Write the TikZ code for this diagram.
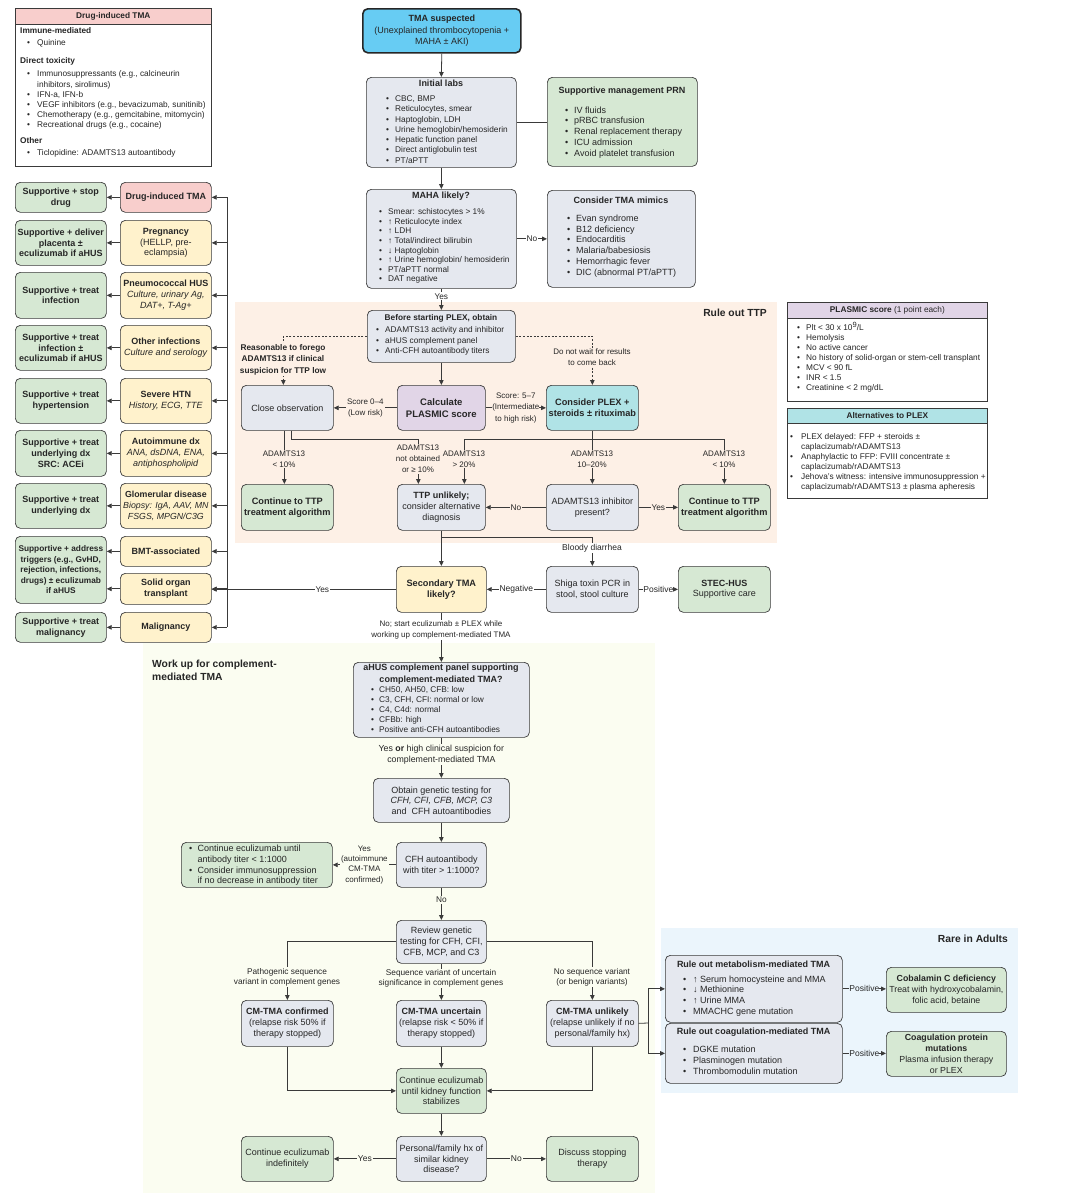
\documentclass[tikz,border=0pt]{standalone}
\usepackage{fontspec}
\setmainfont{Liberation Sans}
\usetikzlibrary{arrows.meta}
\definecolor{lc}{HTML}{3A3A3A}
\definecolor{tc}{HTML}{262626}
\definecolor{cgray}{HTML}{E5E8EF}
\definecolor{cgreen}{HTML}{D6E8D3}
\definecolor{cyel}{HTML}{FFF2CC}
\definecolor{cpink}{HTML}{F8CECC}
\definecolor{clav}{HTML}{E1D5E7}
\definecolor{cteal}{HTML}{B0E3E6}
\definecolor{ccyan}{HTML}{67CCF3}
\definecolor{cpeach}{HTML}{FDF0E6}
\definecolor{cwork}{HTML}{FBFDF1}
\definecolor{crare}{HTML}{EBF5FC}
\newcommand{\fs}[2]{\fontsize{#1pt}{#2pt}\selectfont}
\newcommand{\bu}[1][9pt]{\makebox[#1][l]{\textbullet}}
\newcommand{\bc}[1][9pt]{\hspace*{#1}}
\tikzset{
 bx/.style n args={4}{anchor=north west, at={(#1,#2)}, minimum width={#3-#1}, minimum height={#4-#2}},
 rbox/.style={draw=lc, line width=0.7pt, rounded corners=5pt, align=center, text=tc, inner sep=1pt, font=\fs{9}{10.8}},
 gbx/.style={rbox, fill=cgray},
 grn/.style={rbox, fill=cgreen},
 ylw/.style={rbox, fill=cyel},
 grnb/.style={grn, font=\fs{9}{10.8}\bfseries},
 hd/.style={inner sep=0pt, text=tc, align=center, font=\fs{9}{10.8}\bfseries},
 txt/.style={inner sep=0pt, text=tc, align=left, anchor=north west, font=\fs{8.3}{10.2}},
 lab/.style={inner sep=1pt, text=tc, align=center, font=\fs{8.3}{10.2}},
 arr/.style={draw=lc, line width=0.8pt, -{Triangle[length=5pt,width=4.5pt]}},
 ln/.style={draw=lc, line width=0.8pt},
 dsh/.style={arr, dash pattern=on 2pt off 1.6pt},
 rt/.style={inner sep=0pt, text=tc, font=\fs{10.3}{13}\bfseries},
 sq/.style={draw=lc, line width=0.7pt},
}
\begin{document}
\begin{tikzpicture}[x=1pt,y=-1pt]
\fill[white] (0,0) rectangle (1088,1200);
\useasboundingbox (0,0) rectangle (1088,1200);
% regions
\fill[cpeach] (235,302) rectangle (777,543);
\fill[cwork] (143,643) rectangle (655,1193);
\fill[crare] (661,928) rectangle (1018,1093);
\node[rt, anchor=east] (ttpT) at (767,313) {Rule out TTP};
\node[rt, anchor=north west, align=left] (wkT) at (152,660) {Work up for complement-\\mediated TMA};
\node[rt, anchor=east] (rareT) at (1008,939) {Rare in Adults};

% drug-induced box
\node[sq, fill=white, bx={15}{8}{211}{166}] (drugbox) {};
\node[sq, fill=cpink, bx={15}{8}{211}{24}, text=tc, font=\fs{8.3}{10}\bfseries] (drughd) {Drug-induced TMA};
\node[txt, at={(20,27.5)}] (druglist) {\textbf{Immune-mediated}\\[2pt]
\hspace*{7pt}\bu[10pt]Quinine\\[7.5pt]
\textbf{Direct toxicity}\\[3pt]
\hspace*{7pt}\bu[10pt]Immunosuppressants (e.g., calcineurin\\
\hspace*{7pt}\bc[10pt]inhibitors, sirolimus)\\
\hspace*{7pt}\bu[10pt]IFN-a, IFN-b\\
\hspace*{7pt}\bu[10pt]VEGF inhibitors (e.g., bevacizumab, sunitinib)\\
\hspace*{7pt}\bu[10pt]Chemotherapy (e.g., gemcitabine, mitomycin)\\
\hspace*{7pt}\bu[10pt]Recreational drugs (e.g., cocaine)\\[5.5pt]
\textbf{Other}\\[2pt]
\hspace*{7pt}\bu[10pt]Ticlopidine: ADAMTS13 autoantibody};

% top flow
\node[rbox, fill=ccyan, draw=black!85, line width=1.6pt, bx={362}{8}{520}{52}, font=\fs{9}{11.5}] (tma) {\textbf{TMA suspected}\\(Unexplained thrombocytopenia +\\MAHA ± AKI)};
\node[gbx, bx={366}{77}{516}{167}] (labs) {};
\node[hd, anchor=north, at={(441,79.5)}] (labsT) {Initial labs};
\node[txt, at={(386,95.5)}, font=\fs{8.3}{10.3}] (labsL) {\bu CBC, BMP\\\bu Reticulocytes, smear\\\bu Haptoglobin, LDH\\\bu Urine hemoglobin/hemosiderin\\\bu Hepatic function panel\\\bu Direct antiglobulin test\\\bu PT/aPTT};
\node[grn, bx={547}{77}{697}{166}] (supp) {};
\node[hd, anchor=north, at={(622,86.5)}] (suppT) {Supportive management PRN};
\node[txt, at={(565,106.5)}, font=\fs{9}{10.7}] (suppL) {\bu IV fluids\\\bu pRBC transfusion\\\bu Renal replacement therapy\\\bu ICU admission\\\bu Avoid platelet transfusion};
\node[gbx, bx={366}{189}{516}{288}] (maha) {};
\node[hd, anchor=north, at={(441,191.5)}] (mahaT) {MAHA likely?};
\node[txt, at={(379,208.5)}, font=\fs{8.3}{9.6}] (mahaL) {\bu Smear: schistocytes > 1\%\\\bu ↑ Reticulocyte index\\\bu ↑ LDH\\\bu ↑ Total/indirect bilirubin\\\bu ↓ Haptoglobin\\\bu ↑ Urine hemoglobin/ hemosiderin\\\bu PT/aPTT normal\\\bu DAT negative};
\node[gbx, bx={547}{190}{695}{287}] (mim) {};
\node[hd, anchor=north, at={(621,196.5)}] (mimT) {Consider TMA mimics};
\node[txt, at={(567,214.5)}, font=\fs{9}{10.8}] (mimL) {\bu Evan syndrome\\\bu B12 deficiency\\\bu Endocarditis\\\bu Malaria/babesiosis\\\bu Hemorrhagic fever\\\bu DIC (abnormal PT/aPTT)};

% rule out TTP
\node[gbx, bx={367}{310}{515}{362}] (before) {};
\node[hd, anchor=north, at={(441,314.5)}, font=\fs{8.3}{10}\bfseries] (beforeT) {Before starting PLEX, obtain};
\node[txt, at={(376,326.5)}, font=\fs{8.3}{10.5}] (beforeL) {\bu ADAMTS13 activity and inhibitor\\\bu aHUS complement panel\\\bu Anti-CFH autoantibody titers};
\node[gbx, bx={241}{385}{333}{430}] (close) {Close observation};
\node[rbox, fill=clav, bx={397}{385}{485}{430}, font=\fs{9.5}{11.5}\bfseries] (plas) {Calculate\\PLASMIC score};
\node[rbox, fill=cteal, bx={546}{385}{638}{430}, font=\fs{9.2}{11.5}\bfseries] (cons) {Consider PLEX +\\steroids ± rituximab};
\node[grn, bx={241}{484}{333}{530}, font=\fs{9.2}{11}\bfseries] (cont1) {Continue to TTP\\treatment algorithm};
\node[gbx, bx={397}{484}{485}{530}] (ttpu) {\textbf{TTP unlikely;}\\consider alternative\\diagnosis};
\node[gbx, bx={546}{484}{638}{530}] (inhib) {ADAMTS13 inhibitor\\present?};
\node[grn, bx={678}{484}{770}{530}, font=\fs{9.2}{11}\bfseries] (cont2) {Continue to TTP\\treatment algorithm};

% secondary row
\node[ylw, bx={396}{566}{486}{612}, font=\fs{9.2}{11}\bfseries] (sec) {Secondary TMA\\likely?};
\node[gbx, bx={546}{566}{638}{612}] (shiga) {Shiga toxin PCR in\\stool, stool culture};
\node[grn, bx={678}{566}{770}{612}] (stec) {\textbf{STEC-HUS}\\Supportive care};

% left column
\node[grnb, bx={15}{182}{106}{212}] (g1) {Supportive + stop\\drug};
\node[grnb, bx={15}{220}{106}{265}] (g2) {Supportive + deliver\\placenta ±\\eculizumab if aHUS};
\node[grnb, bx={15}{272}{106}{318}] (g3) {Supportive + treat\\infection};
\node[grnb, bx={15}{325}{106}{370}] (g4) {Supportive + treat\\infection ±\\eculizumab if aHUS};
\node[grnb, bx={15}{378}{106}{423}] (g5) {Supportive + treat\\hypertension};
\node[grnb, bx={15}{430}{106}{476}] (g6) {Supportive + treat\\underlying dx\\SRC: ACEi};
\node[grnb, bx={15}{483}{106}{528}] (g7) {Supportive + treat\\underlying dx};
\node[grnb, bx={15}{536}{106}{603}, font=\fs{8.3}{10.5}\bfseries] (g8) {Supportive + address\\triggers (e.g., GvHD,\\rejection, infections,\\drugs) ± eculizumab\\if aHUS};
\node[grnb, bx={15}{612}{106}{642}] (g10) {Supportive + treat\\malignancy};
\node[rbox, fill=cpink, bx={120}{182}{211}{212}, font=\fs{9}{10.8}\bfseries] (y1) {Drug-induced TMA};
\node[ylw, bx={120}{220}{211}{265}] (y2) {\textbf{Pregnancy}\\(HELLP, pre-\\eclampsia)};
\node[ylw, bx={120}{272}{211}{318}] (y3) {\textbf{Pneumococcal HUS}\\\textit{Culture, urinary Ag,}\\\textit{DAT+, T-Ag+}};
\node[ylw, bx={120}{325}{211}{370}] (y4) {\textbf{Other infections}\\\textit{Culture and serology}};
\node[ylw, bx={120}{378}{211}{423}] (y5) {\textbf{Severe HTN}\\\textit{History, ECG, TTE}};
\node[ylw, bx={120}{430}{211}{476}] (y6) {\textbf{Autoimmune dx}\\\textit{ANA, dsDNA, ENA,}\\\textit{antiphospholipid}};
\node[ylw, bx={120}{483}{211}{528}, font=\fs{8.8}{10.8}] (y7) {\textbf{Glomerular disease}\\\textit{Biopsy: IgA, AAV, MN}\\\textit{FSGS, MPGN/C3G}};
\node[ylw, bx={120}{536}{211}{566}, font=\fs{9}{10.8}\bfseries] (y8) {BMT-associated};
\node[ylw, bx={120}{573}{211}{604}, font=\fs{9}{10.8}\bfseries] (y9) {Solid organ\\transplant};
\node[ylw, bx={120}{612}{211}{642}, font=\fs{9}{10.8}\bfseries] (y10) {Malignancy};
\coordinate (busT) at (227,197);
\coordinate (busB) at (227,627);

% right info boxes
\node[sq, fill=white, bx={787}{302}{987}{401}] (psbox) {};
\node[sq, fill=clav, bx={787}{302}{987}{318}, text=tc, font=\fs{8.3}{10}] (pshd) {\textbf{PLASMIC score} (1 point each)};
\node[txt, at={(797,324.5)}, font=\fs{8.3}{10}] (psL) {\bu Plt < 30 x 10\smash{\raisebox{3pt}{\fs{7.5}{7.5}9}}/L\\\bu Hemolysis\\\bu No active cancer\\\bu No history of solid-organ or stem-cell transplant\\\bu MCV < 90 fL\\\bu INR < 1.5\\\bu Creatinine < 2 mg/dL};
\node[sq, fill=white, bx={787}{408}{987}{498}] (altbox) {};
\node[sq, fill=cteal, bx={787}{408}{987}{423}, text=tc, font=\fs{8.3}{10}\bfseries] (althd) {Alternatives to PLEX};
\node[txt, at={(790,433.5)}, font=\fs{8.3}{10}] (altL) {\bu[11pt]PLEX delayed: FFP + steroids ±\\\bc[11pt]caplacizumab/rADAMTS13\\\bu[11pt]Anaphylactic to FFP: FVIII concentrate ±\\\bc[11pt]caplacizumab/rADAMTS13\\\bu[11pt]Jehova's witness: intensive immunosuppression +\\\bc[11pt]caplacizumab/rADAMTS13 ± plasma apheresis};

% work up region
\node[gbx, bx={353}{662}{529}{737}] (ahus) {};
\node[hd, anchor=north, at={(441,664)}, font=\fs{9}{12}\bfseries] (ahusT) {aHUS complement panel supporting\\complement-mediated TMA?};
\node[txt, at={(371,686.5)}, font=\fs{8.3}{10}] (ahusL) {\bu[8pt]CH50, AH50, CFB: low\\\bu[8pt]C3, CFH, CFI: normal or low\\\bu[8pt]C4, C4d: normal\\\bu[8pt]CFBb: high\\\bu[8pt]Positive anti-CFH autoantibodies};
\node[gbx, bx={373}{778}{509}{822}, font=\fs{9}{10.5}] (obtain) {Obtain genetic testing for\\\textit{CFH, CFI, CFB, MCP, C3}\\and\ \ CFH autoantibodies};
\node[gbx, bx={396}{842}{486}{887}] (cfh) {CFH autoantibody\\with titer > 1:1000?};
\node[grn, bx={181}{842}{332}{887}] (cecu) {};
\node[txt, at={(189,844.5)}, font=\fs{9}{10.9}] (cecuL) {\bu[8.5pt]Continue eculizumab until\\\bc[8.5pt]antibody titer < 1:1000\\\bu[8.5pt]Consider immunosuppression\\\bc[8.5pt]if no decrease in antibody titer};
\node[gbx, bx={396}{920}{486}{963}] (review) {Review genetic\\testing for CFH, CFI,\\CFB, MCP, and C3};
\node[gbx, bx={241}{1000}{333}{1046}] (conf) {\textbf{CM-TMA confirmed}\\(relapse risk 50\% if\\therapy stopped)};
\node[gbx, bx={396}{1000}{486}{1046}] (unc) {\textbf{CM-TMA uncertain}\\(relapse risk < 50\% if\\therapy stopped)};
\node[gbx, bx={546}{1000}{638}{1046}] (unl) {\textbf{CM-TMA unlikely}\\(relapse unlikely if no\\personal/family hx)};
\node[grn, bx={396}{1068}{486}{1113}] (cont3) {Continue eculizumab\\until kidney function\\stabilizes};
\node[gbx, bx={396}{1136}{486}{1181}] (pers) {Personal/family hx of\\similar kidney\\disease?};
\node[grn, bx={241}{1136}{333}{1181}] (indef) {Continue eculizumab\\indefinitely};
\node[grn, bx={546}{1136}{638}{1181}] (disc) {Discuss stopping\\therapy};

% rare in adults
\node[gbx, bx={665}{955}{842}{1022}] (meta) {};
\node[hd, anchor=north, at={(753.5,960.5)}] (metaT) {Rule out metabolism-mediated TMA};
\node[txt, at={(683,975.5)}, font=\fs{9}{10.7}] (metaL) {\bu[10pt]↑ Serum homocysteine and MMA\\\bu[10pt]↓ Methionine\\\bu[10pt]↑ Urine MMA\\\bu[10pt]MMACHC gene mutation};
\node[gbx, bx={665}{1023}{842}{1083}] (coag) {};
\node[hd, anchor=north, at={(753.5,1027.5)}] (coagT) {Rule out coagulation-mediated TMA};
\node[txt, at={(683,1045.5)}, font=\fs{9}{10.9}] (coagL) {\bu[10pt]DGKE mutation\\\bu[10pt]Plasminogen mutation\\\bu[10pt]Thrombomodulin mutation};
\node[grn, bx={886}{967}{1006}{1012}, font=\fs{8.8}{11}] (cob) {\textbf{Cobalamin C deficiency}\\Treat with hydroxycobalamin,\\folic acid, betaine};
\node[grn, bx={886}{1031}{1006}{1076}, font=\fs{8.8}{10.7}] (cp) {\textbf{Coagulation protein}\\\textbf{mutations}\\Plasma infusion therapy\\or PLEX};
\coordinate (jx) at (648,1023);

% connectors top
\draw[arr] (tma.south) -- (labs.north);
\draw[ln] (labs.east) -- (labs.east -| supp.west);
\draw[arr] (labs.south) -- (maha.north);
\draw[arr] (maha.east) -- node[lab, fill=white]{No} (maha.east -| mim.west);
\draw[arr] (maha.south) -- node[lab, fill=white, pos=0.36]{Yes} (before.north);

% connectors TTP
\draw[arr] (before.south) -- (plas.north);
\draw[arr] (plas.west) -- node[lab, fill=cpeach, font=\fs{8}{11.5}]{Score 0–4\\(Low risk)} (close.east);
\draw[arr] (plas.east) -- node[lab, fill=cpeach, inner sep=0pt, font=\fs{8}{11.5}]{Score: 5–7\\(Intermediate\\to high risk)} (cons.west);
\draw[dsh] (before.west) -| ([xshift=-4pt]close.north);
\draw[dsh] (before.east) -| (cons.north);
\node[lab, fill=cpeach, font=\fs{8.3}{11.5}\bfseries] (reas) at (283,359.5) {Reasonable to forego\\ADAMTS13 if clinical\\suspicion for TTP low};
\node[lab, fill=cpeach, font=\fs{8}{11}] (dnw) at (592,357.5) {Do not wait for results\\to come back};
\draw[arr] ([xshift=-3pt]close.south) -- ([xshift=-3pt]close.south |- cont1.north);
\draw[arr] ([xshift=4pt]close.south) -- ++(0,9) -| ([xshift=-23pt]ttpu.north);
\draw[arr] (cons.south) -- (inhib.north);
\draw[arr] ([yshift=-9pt]cons.south) -| ([xshift=23pt]ttpu.north);
\draw[arr] ([yshift=-9pt]cons.south) -| (cont2.north);
\node[lab, fill=cpeach, font=\fs{8}{11}] (llt1) at (284,459) {ADAMTS13\\< 10\%};
\node[lab, fill=cpeach, font=\fs{8}{11}] (lnot) at (418,459) {ADAMTS13\\not obtained\\or ≥ 10\%};
\node[lab, fill=cpeach, font=\fs{8}{11}] (lgt) at (464,459) {ADAMTS13\\> 20\%};
\node[lab, fill=cpeach, font=\fs{8}{11}] (lmid) at (592,459) {ADAMTS13\\10–20\%};
\node[lab, fill=cpeach, font=\fs{8}{11}] (llt2) at (724,459) {ADAMTS13\\< 10\%};
\draw[arr] (inhib.west) -- node[lab, fill=cpeach]{No} (ttpu.east);
\draw[arr] (inhib.east) -- node[lab, fill=cpeach]{Yes} (cont2.west);
\draw[arr] (ttpu.south) -- (sec.north);
\draw[arr] ([yshift=-7pt]ttpu.south) -| (shiga.north);
\node[lab, fill=white, font=\fs{8.5}{10}] (bloody) at (592,548) {Bloody diarrhea};
\draw[arr] (shiga.west) -- node[lab, fill=white, font=\fs{8.5}{10}]{Negative} (sec.east);
\draw[arr] (shiga.east) -- node[lab, fill=white, inner sep=0pt, font=\fs{8.5}{10}]{Positive} (stec.west);

% left column connectors
\draw[ln] (busT) -- (busB);
\foreach \n in {y1,y2,y3,y4,y5,y6,y7,y8,y9,y10} {\draw[arr] (busT |- \n.east) -- (\n.east);}
\foreach \a/\b in {y1/g1,y2/g2,y3/g3,y4/g4,y5/g5,y6/g6,y7/g7,y8/g8,y9/g8,y10/g10} {\draw[arr] (\a.west) -- (\a.west -| \b.east);}
\draw[arr] (sec.west) -- node[lab, fill=white, pos=0.4]{Yes} (sec.west -| y9.east);

% work up connectors
\draw[arr] (sec.south) -- (ahus.north);
\node[lab, fill=white, font=\fs{8}{11.5}] (nostart) at (441,630) {No; start eculizumab ± PLEX while\\working up complement-mediated TMA};
\draw[arr] (ahus.south) -- node[lab, fill=cwork, pos=0.42, font=\fs{8.8}{11.5}]{Yes \textbf{or} high clinical suspicion for\\complement-mediated TMA} (obtain.north);
\draw[arr] (obtain.south) -- (cfh.north);
\draw[arr] (cfh.west) -- node[lab, fill=cwork, font=\fs{8}{10.3}]{Yes\\(autoimmune\\CM-TMA\\confirmed)} (cecu.east);
\draw[arr] (cfh.south) -- node[lab, fill=cwork, pos=0.37]{No} (review.north);
\draw[arr] (review.west) -| (conf.north);
\draw[arr] (review.south) -- (unc.north);
\draw[arr] (review.east) -| (unl.north);
\node[lab, fill=cwork] (lpath) at (287,977) {Pathogenic sequence\\variant in complement genes};
\node[lab, fill=cwork] (lvus) at (441,978.5) {Sequence variant of uncertain\\significance in complement genes};
\node[lab, fill=cwork] (lnone) at (592,977) {No sequence variant\\(or benign variants)};
\draw[arr] (conf.south) |- (cont3.west);
\draw[arr] (unl.south) |- (cont3.east);
\draw[arr] (unc.south) -- (cont3.north);
\draw[arr] (cont3.south) -- (pers.north);
\draw[arr] (pers.west) -- node[lab, fill=cwork, font=\fs{8.5}{10}]{Yes} (indef.east);
\draw[arr] (pers.east) -- node[lab, fill=cwork, font=\fs{8.5}{10}]{No} (disc.west);

% rare connectors
\draw[ln] (unl.east) -- (jx);
\draw[arr] (jx) |- (meta.west);
\draw[arr] (jx) |- (coag.west);
\draw[arr] (meta.east) -- node[lab, fill=crare, inner sep=0pt, font=\fs{8.5}{10}]{Positive} (meta.east -| cob.west);
\draw[arr] (coag.east) -- node[lab, fill=crare, inner sep=0pt, font=\fs{8.5}{10}]{Positive} (coag.east -| cp.west);
\end{tikzpicture}
\end{document}
